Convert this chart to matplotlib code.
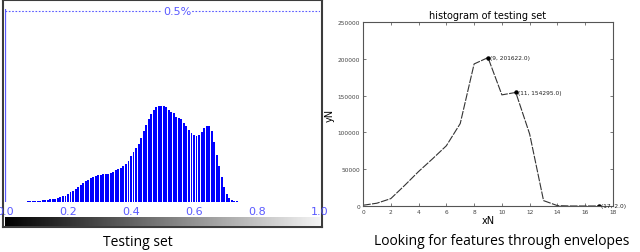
import numpy as np
import matplotlib
matplotlib.use('Agg')
import matplotlib.pyplot as plt
from matplotlib.colorbar import ColorbarBase
from matplotlib.colors import Normalize

# left panel: histogram of the testing set (percent per bin)
bin_start = 0.064
bin_step = 0.008
hist_pct = [0.0013, 0.0016, 0.0018, 0.0021, 0.0026, 0.0031, 0.0039, 0.0047, 0.0052, 0.0060,
            0.0068, 0.0076, 0.0086, 0.0099, 0.0118, 0.0144, 0.0170, 0.0209, 0.0262, 0.0301,
            0.0340, 0.0393, 0.0445, 0.0497, 0.0537, 0.0576, 0.0628, 0.0655, 0.0681, 0.0694,
            0.0707, 0.0720, 0.0733, 0.0746, 0.0772, 0.0798, 0.0825, 0.0864, 0.0903, 0.0942,
            0.0995, 0.1073, 0.1204, 0.1309, 0.1414, 0.1518, 0.1676, 0.1859, 0.2016, 0.2173,
            0.2304, 0.2409, 0.2487, 0.2513, 0.2526, 0.2513, 0.2474, 0.2409, 0.2356, 0.2317,
            0.2238, 0.2199, 0.2160, 0.2068, 0.1990, 0.1885, 0.1806, 0.1754, 0.1728, 0.1754,
            0.1833, 0.1937, 0.1990, 0.1990, 0.1859, 0.1571, 0.1230, 0.0942, 0.0655, 0.0393,
            0.0209, 0.0105, 0.0052, 0.0031, 0.0016]
hist_ticks = [0.0, 0.2, 0.4, 0.6, 0.8, 1.0]
hist_ticklabels = ['0.0', '0.2', '0.4', '0.6', '0.8', '1.0']
ref_level = 0.5

# right panel: envelope of the histogram
xN = [0, 1, 2, 3, 4, 5, 6, 7, 8, 9, 10, 11, 12, 13, 14, 15, 16, 17]
yN = [1000, 3800, 10000, 28000, 46800, 64000, 81800, 112000, 193000, 201622,
      151000, 154295, 97700, 7300, 500, 0, 0, 2]
peak_idx = [9, 11, 17]

W, H = 640, 253


def rect(x0, y0, x1, y1):
    return [x0 / W, 1 - y1 / H, (x1 - x0) / W, (y1 - y0) / H]


fig = plt.figure(figsize=(6.4, 2.53), dpi=100)

# frame around left panel
fr = fig.add_axes(rect(3, 0.5, 322, 228))
fr.set_xticks([])
fr.set_yticks([])
for s in fr.spines.values():
    s.set_color('#3c3c3c')
    s.set_linewidth(1.5)

blue = '#0000ff'
light_blue = '#5a5aff'

ax = fig.add_axes(rect(5, 10, 320, 203))
ax.patch.set_alpha(0)
bin_x = [bin_start + bin_step * i for i in range(len(hist_pct))]
ax.bar(bin_x, hist_pct, width=bin_step * 0.75, color=blue, linewidth=0)
ax.axhline(ref_level, color=light_blue, lw=0.8, ls=(0, (1.5, 1.5)))
ax.axvline(0, color=light_blue, lw=0.9)
ax.text(0.546, ref_level, '0.5%', ha='center', va='center', color=light_blue, fontsize=8,
        bbox=dict(facecolor='white', edgecolor='none', pad=0.5))
ax.set_xlim(0, 1)
ax.set_ylim(0, 0.5052)
ax.set_yticks([])
ax.set_xticks(hist_ticks)
ax.set_xticklabels(hist_ticklabels)
ax.tick_params(axis='x', length=0, pad=3, labelsize=8, labelcolor=light_blue)
for s in ax.spines.values():
    s.set_visible(False)

# grey gradient strip
gax = fig.add_axes(rect(5, 218, 320, 227))
ColorbarBase(gax, cmap='gray', norm=Normalize(0, 1.05), orientation='horizontal')
gax.set_xlim(0, 1)
gax.set_xticks([])
gax.set_yticks([])
for s in gax.spines.values():
    s.set_visible(False)

fig.text(138 / W, 1 - 243 / H, 'Testing set', ha='center', va='center',
         fontsize=10, family='Open Sans')

# right panel
ax2 = fig.add_axes(rect(363, 23, 613, 207))
ax2.plot(xN, yN, color='#333333', lw=0.8, ls=(0, (7, 1.2)))
for i in peak_idx:
    ax2.plot(xN[i], yN[i], 'o', color='black', ms=2.2)
    ax2.text(xN[i] + 0.15, yN[i], '(%d, %.1f)' % (xN[i], yN[i]), fontsize=4.2,
             va='center', ha='left', color='#222222')
ax2.set_xlim(0, 18)
ax2.set_ylim(0, 250000)
ax2.set_xticks(range(0, 19, 2))
ax2.set_yticks(range(0, 250001, 50000))
ax2.tick_params(direction='in', length=2, width=0.5, labelsize=4.2, pad=2,
                top=True, right=True, colors='#444444')
for s in ax2.spines.values():
    s.set_color('#555555')
    s.set_linewidth(0.8)
ax2.set_title('histogram of testing set', fontsize=7, pad=3)
ax2.set_xlabel('xN', fontsize=7, labelpad=1)
ax2.set_ylabel('yN', fontsize=7, labelpad=2)

fig.text(502 / W, 1 - 242 / H, 'Looking for features through envelopes', ha='center',
         va='center', fontsize=10, family='Open Sans')

fig.savefig('out.png', dpi=100)
